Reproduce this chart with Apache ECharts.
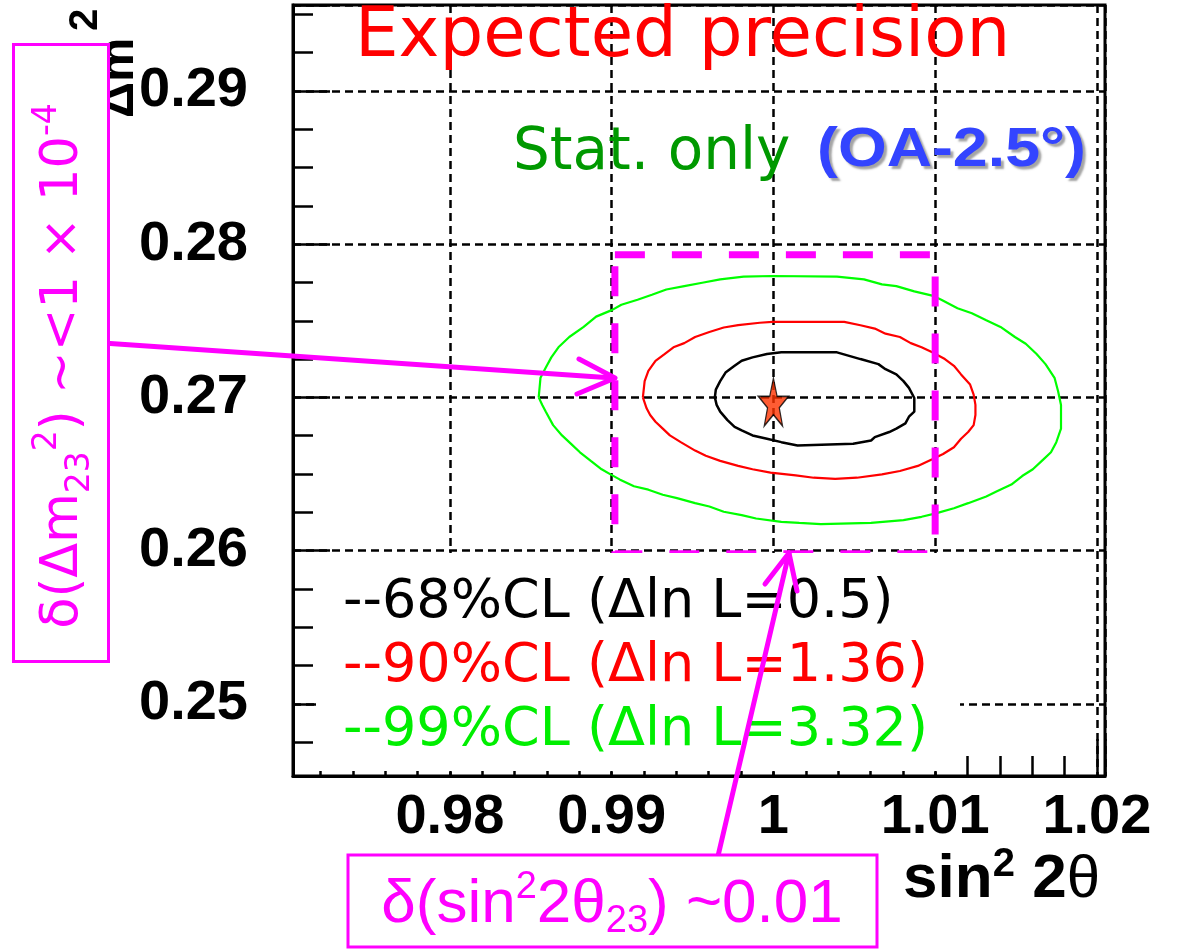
<!DOCTYPE html>
<html>
<head>
<meta charset="utf-8">
<script src="https://cdn.jsdelivr.net/npm/echarts@6/dist/echarts.min.js"></script>
<style>
  html, body { margin: 0; padding: 0; background: #ffffff; }
  #chart { width: 1180px; height: 950px; }
</style>
</head>
<body>
<div id="chart"></div>
<script>
// Axis ranges and tick labels
const xRange = [0.9703, 1.0205];
const yRange = [0.2453, 0.2956];
const xTickLabels = ['0.98', '0.99', '1', '1.01', '1.02'];
const yTickLabels = ['0.25', '0.26', '0.27', '0.28', '0.29'];

// Best-fit point (sin^2 2theta, dm^2)
const bestFit = [1.0, 0.2697];

// Likelihood contours [sin^2 2theta, dm^2]
const contour68 = [
  [0.99638, 0.27000], [0.99644, 0.27051], [0.99671, 0.27106], [0.99704, 0.27162],
  [0.99760, 0.27206], [0.99804, 0.27239], [0.99871, 0.27261], [0.99960, 0.27283],
  [1.00049, 0.27294], [1.00393, 0.27294], [1.00538, 0.27250], [1.00649, 0.27217],
  [1.00693, 0.27184], [1.00760, 0.27150], [1.00804, 0.27106], [1.00838, 0.27062],
  [1.00871, 0.26996], [1.00871, 0.26907], [1.00838, 0.26874], [1.00816, 0.26830],
  [1.00760, 0.26796], [1.00716, 0.26774], [1.00627, 0.26741], [1.00604, 0.26719],
  [1.00493, 0.26697], [1.00149, 0.26686], [1.00049, 0.26708], [0.99960, 0.26730],
  [0.99871, 0.26752], [0.99804, 0.26785], [0.99760, 0.26808], [0.99716, 0.26852],
  [0.99671, 0.26907], [0.99649, 0.26951], [0.99638, 0.27000]
];
const contour90 = [
  [0.99193, 0.27000], [0.99204, 0.27106], [0.99227, 0.27173], [0.99271, 0.27239],
  [0.99327, 0.27283], [0.99382, 0.27327], [0.99449, 0.27354], [0.99516, 0.27394],
  [0.99604, 0.27427], [0.99693, 0.27456], [0.99782, 0.27471], [0.99916, 0.27487],
  [0.99993, 0.27493], [1.00438, 0.27493], [1.00538, 0.27471], [1.00627, 0.27449],
  [1.00693, 0.27416], [1.00782, 0.27394], [1.00849, 0.27354], [1.00916, 0.27327],
  [1.00982, 0.27294], [1.01060, 0.27250], [1.01116, 0.27206], [1.01160, 0.27150],
  [1.01216, 0.27084], [1.01238, 0.27018], [1.01249, 0.26951], [1.01249, 0.26885],
  [1.01238, 0.26819], [1.01204, 0.26774], [1.01160, 0.26730], [1.01116, 0.26675],
  [1.01049, 0.26631], [1.00982, 0.26597], [1.00893, 0.26553], [1.00782, 0.26520],
  [1.00671, 0.26498], [1.00516, 0.26476], [1.00382, 0.26469], [1.00249, 0.26476],
  [1.00138, 0.26491], [0.99982, 0.26509], [0.99871, 0.26531], [0.99782, 0.26553],
  [0.99671, 0.26586], [0.99582, 0.26619], [0.99516, 0.26653], [0.99427, 0.26708],
  [0.99360, 0.26752], [0.99316, 0.26796], [0.99271, 0.26841], [0.99238, 0.26885],
  [0.99216, 0.26929], [0.99193, 0.27000]
];
const contour99 = [
  [0.98549, 0.27000], [0.98560, 0.27128], [0.98593, 0.27195], [0.98627, 0.27261],
  [0.98671, 0.27327], [0.98738, 0.27394], [0.98827, 0.27460], [0.98904, 0.27527],
  [0.99004, 0.27571], [0.99060, 0.27604], [0.99160, 0.27637], [0.99249, 0.27670],
  [0.99338, 0.27704], [0.99449, 0.27726], [0.99560, 0.27748], [0.99671, 0.27770],
  [0.99816, 0.27788], [0.99993, 0.27792], [1.00393, 0.27788], [1.00560, 0.27770],
  [1.00671, 0.27737], [1.00760, 0.27726], [1.00871, 0.27692], [1.00982, 0.27664],
  [1.01038, 0.27637], [1.01138, 0.27582], [1.01227, 0.27549], [1.01316, 0.27504],
  [1.01404, 0.27460], [1.01493, 0.27394], [1.01560, 0.27350], [1.01627, 0.27283],
  [1.01682, 0.27217], [1.01738, 0.27128], [1.01760, 0.27040], [1.01778, 0.26951],
  [1.01778, 0.26796], [1.01749, 0.26708], [1.01716, 0.26642], [1.01671, 0.26597],
  [1.01604, 0.26531], [1.01538, 0.26487], [1.01471, 0.26431], [1.01382, 0.26387],
  [1.01316, 0.26354], [1.01204, 0.26310], [1.01116, 0.26277], [1.01004, 0.26243],
  [1.00916, 0.26221], [1.00804, 0.26199], [1.00604, 0.26181], [1.00293, 0.26173],
  [1.00160, 0.26181], [1.00049, 0.26188], [0.99893, 0.26210], [0.99804, 0.26232],
  [0.99693, 0.26254], [0.99604, 0.26288], [0.99516, 0.26310], [0.99404, 0.26343],
  [0.99316, 0.26365], [0.99227, 0.26398], [0.99138, 0.26420], [0.99049, 0.26465],
  [0.98993, 0.26498], [0.98938, 0.26531], [0.98871, 0.26586], [0.98804, 0.26642],
  [0.98749, 0.26697], [0.98693, 0.26752], [0.98638, 0.26819], [0.98593, 0.26907],
  [0.98571, 0.26951], [0.98549, 0.27000]
];

// Precision window (dashed box) corners
const windowX = [0.9902, 1.0100];
const windowY = [0.2598, 0.2793];

const legendLines = [
  { text: '--68%CL (\u0394ln L=0.5)', color: '#000000' },
  { text: '--90%CL (\u0394ln L=1.36)', color: '#ff0000' },
  { text: '--99%CL (\u0394ln L=3.32)', color: '#00ee00' }
];

function tickFormatter(labels) {
  return function (v) {
    for (const s of labels) {
      if (Math.abs(parseFloat(s) - v) < 1e-7) return s;
    }
    return '';
  };
}

const MAGENTA = '#ff00ff';
const axisFont = { fontFamily: 'Liberation Sans', fontWeight: 'bold', fontSize: 56, color: '#000' };

const chart = echarts.init(document.getElementById('chart'), null, { renderer: 'canvas' });

const windowPath = [
  [windowX[0], windowY[1]], [windowX[1], windowY[1]], [windowX[1], windowY[0]],
  [windowX[0], windowY[0]], [windowX[0], windowY[1]]
];

function contourSeries(data, color, width) {
  return {
    type: 'line', data: data, showSymbol: false, symbol: 'none', silent: true,
    lineStyle: { color: color, width: width }, z: 3, animation: false
  };
}

chart.setOption({
  animation: false,
  backgroundColor: '#ffffff',
  grid: {
    left: 293, top: 5, width: 812, height: 771,
    show: true, borderColor: '#000', borderWidth: 3, backgroundColor: 'transparent',
    containLabel: false, outerBoundsMode: 'none'
  },
  xAxis: {
    type: 'value', min: xRange[0], max: xRange[1], splitNumber: 5,
    axisLine: { show: true, lineStyle: { color: '#000', width: 3 } },
    axisTick: { show: true, inside: true, length: 37, lineStyle: { color: '#000', width: 2.5 } },
    minorTick: { show: true, splitNumber: 5, length: 20, lineStyle: { color: '#000', width: 2.5 } },
    splitLine: { show: true, lineStyle: { color: '#000', width: 2.5, type: [8, 5] } },
    axisLabel: Object.assign({ margin: 14, showMinLabel: false, showMaxLabel: false,
      formatter: tickFormatter(xTickLabels) }, axisFont)
  },
  yAxis: {
    type: 'value', min: yRange[0], max: yRange[1], splitNumber: 5,
    axisLine: { show: true, lineStyle: { color: '#000', width: 3 } },
    axisTick: { show: true, inside: true, length: 37, lineStyle: { color: '#000', width: 2.5 } },
    minorTick: { show: true, splitNumber: 4, length: 20, lineStyle: { color: '#000', width: 2.5 } },
    splitLine: { show: true, lineStyle: { color: '#000', width: 2.5, type: [8, 5] } },
    axisLabel: Object.assign({ margin: 45, showMinLabel: false, showMaxLabel: false,
      formatter: tickFormatter(yTickLabels) }, axisFont)
  },
  series: [
    contourSeries(contour99, '#00ff00', 2.2),
    contourSeries(contour90, '#ff0000', 2.2),
    contourSeries(contour68, '#000000', 2.5),
    {
      type: 'line', data: windowPath, showSymbol: false, symbol: 'none', silent: true, z: 4,
      lineStyle: { color: MAGENTA, width: 7, type: [30, 27], cap: 'butt' }
    },
    {
      type: 'scatter', data: [bestFit], z: 5, silent: true,
      symbol: 'path://M50,0 L61.8,35.1 L98.1,35.1 L68.8,56.8 L79.4,91.5 L50,70.1 L20.6,91.5 L31.2,56.8 L1.9,35.1 L38.2,35.1 Z',
      symbolSize: [30, 48],
      itemStyle: { color: '#ff3300', borderColor: '#000', borderWidth: 1.5 }
    }
  ],
  graphic: [
    // white legend pad
    { type: 'rect', z: 8, silent: true, shape: { x: 316, y: 553, width: 644, height: 218 },
      style: { fill: '#ffffff' } },
    ...legendLines.map((l, i) => ({
      type: 'text', z: 9, x: 343, y: 603 + i * 64,
      style: { text: l.text, fill: l.color, fontFamily: 'DejaVu Sans', fontSize: 54,
        align: 'left', verticalAlign: 'middle' }
    })),
    // headline texts
    { type: 'text', z: 9, x: 355, y: 38,
      style: { text: 'Expected precision', fill: '#ff0000', fontFamily: 'DejaVu Sans', fontSize: 69,
        align: 'left', verticalAlign: 'middle' } },
    { type: 'text', z: 9, x: 513, y: 154,
      style: { text: 'Stat. only', fill: '#009900', fontFamily: 'DejaVu Sans', fontSize: 58,
        align: 'left', verticalAlign: 'middle' } },
    { type: 'text', z: 9, x: 817, y: 151, scaleX: 1.12, originX: 0, originY: 0,
      style: { text: '(OA-2.5\u00b0)', fill: '#3344ff', fontFamily: 'Liberation Sans', fontWeight: 'bold',
        fontSize: 56, align: 'left', verticalAlign: 'middle',
        textShadowColor: 'rgba(90,90,90,0.55)', textShadowOffsetX: 3, textShadowOffsetY: 3, textShadowBlur: 2 } },
    // axis titles
    { type: 'text', z: 9, x: 1100, y: 880,
      style: { text: '{b|sin}{s|2}{b| 2}{t|\u03b8}', align: 'right', verticalAlign: 'middle',
        rich: {
          b: { fontFamily: 'Liberation Sans', fontWeight: 'bold', fontSize: 62, fill: '#000', lineHeight: 70 },
          s: { fontFamily: 'Liberation Sans', fontWeight: 'bold', fontSize: 40, fill: '#000', lineHeight: 44, verticalAlign: 'top' },
          t: { fontFamily: 'Liberation Sans', fontSize: 60, fill: '#000', lineHeight: 70 }
        } } },
    { type: 'text', z: 9, x: 119, y: 118, rotation: Math.PI / 2,
      style: { text: '\u0394m', fill: '#000', fontFamily: 'Liberation Sans', fontWeight: 'bold',
        fontSize: 50, align: 'left', verticalAlign: 'middle' } },
    { type: 'text', z: 9, x: 86, y: 31, rotation: Math.PI / 2,
      style: { text: '2', fill: '#000', fontFamily: 'Liberation Sans', fontWeight: 'bold',
        fontSize: 40, align: 'left', verticalAlign: 'middle' } },
    // arrows
    { type: 'polyline', z: 20, silent: true, shape: { points: [[103, 343], [613, 378]] },
      style: { stroke: MAGENTA, lineWidth: 5, lineCap: 'round' } },
    { type: 'polyline', z: 20, silent: true, shape: { points: [[579, 359], [615, 378], [577, 394]] },
      style: { stroke: MAGENTA, lineWidth: 5, lineCap: 'round', lineJoin: 'round', fill: null } },
    { type: 'polyline', z: 20, silent: true, shape: { points: [[718, 856], [789, 553]] },
      style: { stroke: MAGENTA, lineWidth: 5, lineCap: 'round' } },
    { type: 'polyline', z: 20, silent: true, shape: { points: [[765, 584], [789, 553], [797, 591]] },
      style: { stroke: MAGENTA, lineWidth: 5, lineCap: 'round', lineJoin: 'round', fill: null } },
    // annotation boxes
    { type: 'rect', z: 21, silent: true, shape: { x: 13.5, y: 44.5, width: 95, height: 617 },
      style: { fill: '#ffffff', stroke: MAGENTA, lineWidth: 3 } },
    { type: 'text', z: 22, x: 64, y: 366, rotation: Math.PI / 2,
      style: { text: '{n|\u03b4(\u0394m}{sub|23}{sup|2}{n|) ~<1 \u00d7 10}{sup|-4}', align: 'center', verticalAlign: 'middle',
        rich: {
          n: { fontFamily: 'DejaVu Sans', fontSize: 51, fill: MAGENTA, lineHeight: 66 },
          sub: { fontFamily: 'DejaVu Sans', fontSize: 33, fill: MAGENTA, lineHeight: 34, verticalAlign: 'bottom' },
          sup: { fontFamily: 'DejaVu Sans', fontSize: 33, fill: MAGENTA, lineHeight: 34, verticalAlign: 'top' }
        } } },
    { type: 'rect', z: 21, silent: true, shape: { x: 348, y: 855, width: 529, height: 92 },
      style: { fill: '#ffffff', stroke: MAGENTA, lineWidth: 3 } },
    { type: 'text', z: 22, x: 612, y: 905,
      style: { text: '{n|\u03b4(sin}{sup|2}{n|2\u03b8}{sub|23}{n|) ~0.01}', align: 'center', verticalAlign: 'middle',
        rich: {
          n: { fontFamily: 'Liberation Sans', fontSize: 62, fill: MAGENTA, lineHeight: 72 },
          sub: { fontFamily: 'Liberation Sans', fontSize: 38, fill: MAGENTA, lineHeight: 38, verticalAlign: 'bottom' },
          sup: { fontFamily: 'Liberation Sans', fontSize: 38, fill: MAGENTA, lineHeight: 42, verticalAlign: 'top' }
        } } }
  ]
});
</script>
</body>
</html>
